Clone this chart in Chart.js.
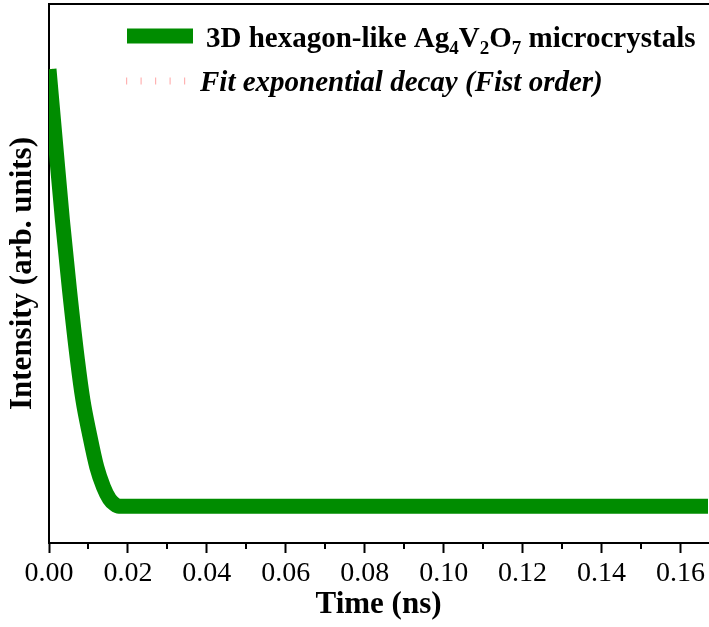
<!DOCTYPE html>
<html>
<head>
<meta charset="utf-8">
<script src="https://cdn.jsdelivr.net/npm/chart.js@4/dist/chart.umd.min.js"></script>
<style>
  html, body { margin: 0; padding: 0; background: #ffffff; }
  canvas { display: block; }
</style>
</head>
<body>
<canvas id="decay" width="709" height="627"></canvas>
<script>
// Time-resolved emission of the Ag4V2O7 microcrystals (normalised intensity)
const timeNs = [0, 0.0017, 0.0034, 0.0052, 0.0072, 0.0086, 0.0102, 0.0121, 0.0138, 0.0153, 0.0166, 0.0177, 0.0190,
                0.02, 0.03, 0.04, 0.05, 0.06, 0.07, 0.08, 0.09, 0.10, 0.11, 0.12, 0.13, 0.14, 0.15, 0.16, 0.17];
const intensity = [0.879, 0.738, 0.599, 0.469, 0.340, 0.265, 0.204, 0.141, 0.104, 0.082, 0.072, 0.068, 0.068,
                   0.068, 0.068, 0.068, 0.068, 0.068, 0.068, 0.068, 0.068, 0.068, 0.068, 0.068, 0.068, 0.068, 0.068, 0.068, 0.068];
// First-order exponential fit evaluated at the same times
const fitIntensity = [0.879, 0.738, 0.599, 0.469, 0.340, 0.265, 0.204, 0.141, 0.104, 0.082, 0.072, 0.068, 0.068,
                      0.068, 0.068, 0.068, 0.068, 0.068, 0.068, 0.068, 0.068, 0.068, 0.068, 0.068, 0.068, 0.068, 0.068, 0.068, 0.068];

const timeTicks = [0, 0.02, 0.04, 0.06, 0.08, 0.10, 0.12, 0.14, 0.16];
const tickLabels = ['0.00', '0.02', '0.04', '0.06', '0.08', '0.10', '0.12', '0.14', '0.16'];
const minorTimeTicks = [0.01, 0.03, 0.05, 0.07, 0.09, 0.11, 0.13, 0.15];

// Legend text pieces: [text, isSubscript]
const dataLabel = [['3D hexagon-like Ag', 0], ['4', 1], ['V', 0], ['2', 1], ['O', 0], ['7', 1], [' microcrystals', 0]];
const fitLabel = [['Fit exponential decay (Fist order)', 0]];

const GREEN = 'rgb(0,140,0)';
const FIT_RED = 'rgba(255,0,0,0.5)';
const SERIF = '"Liberation Serif", "Times New Roman", serif';

const toPoints = (xs, ys) => xs.map((x, i) => ({ x: x, y: ys[i] }));

// Minor ticks between the labelled ones on the time axis
const minorTicksPlugin = {
  id: 'minorTicks',
  afterDraw(chart) {
    const sx = chart.scales.x;
    const ctx = chart.ctx;
    const y0 = chart.chartArea.bottom;
    ctx.save();
    ctx.strokeStyle = '#000';
    ctx.lineWidth = 2;
    minorTimeTicks.forEach(v => {
      const px = Math.round(sx.getPixelForValue(v));
      if (px < chart.chartArea.left || px > chart.chartArea.right) return;
      ctx.beginPath();
      ctx.moveTo(px, y0);
      ctx.lineTo(px, y0 + 6);
      ctx.stroke();
    });
    ctx.restore();
  }
};

// Legend with subscripted chemical formula
function drawRichText(ctx, parts, x, y, font, subFont, subShift) {
  let cx = x;
  parts.forEach(([txt, sub]) => {
    ctx.font = sub ? subFont : font;
    ctx.fillText(txt, cx, sub ? y + subShift : y);
    cx += ctx.measureText(txt).width;
  });
  return cx;
}

const legendPlugin = {
  id: 'richLegend',
  afterDatasetsDraw(chart) {
    const ctx = chart.ctx;
    const ds = chart.data.datasets;
    ctx.save();
    ctx.textBaseline = 'alphabetic';
    ctx.textAlign = 'left';
    ctx.fillStyle = '#000';

    // data series sample
    ctx.strokeStyle = ds[0].borderColor;
    ctx.lineWidth = ds[0].borderWidth;
    ctx.lineCap = 'butt';
    ctx.beginPath();
    ctx.moveTo(127, 36);
    ctx.lineTo(193, 36);
    ctx.stroke();
    drawRichText(ctx, dataLabel, 206, 47, 'bold 29px ' + SERIF, 'bold 19px ' + SERIF, 7);

    // fit sample
    ctx.strokeStyle = 'rgba(255,0,0,0.3)';
    ctx.lineWidth = 7;
    ctx.setLineDash(ds[1].borderDash);
    ctx.beginPath();
    ctx.moveTo(126, 81);
    ctx.lineTo(193, 81);
    ctx.stroke();
    ctx.setLineDash([]);
    drawRichText(ctx, fitLabel, 200, 91, 'italic bold 29px ' + SERIF, 'italic bold 19px ' + SERIF, 7);
    ctx.restore();
  }
};

new Chart(document.getElementById('decay'), {
  type: 'line',
  data: {
    datasets: [
      {
        label: '3D hexagon-like Ag4V2O7 microcrystals',
        data: toPoints(timeNs, intensity),
        borderColor: GREEN,
        borderWidth: 15,
        borderCapStyle: 'butt',
        borderJoinStyle: 'round',
        cubicInterpolationMode: 'monotone',
        pointRadius: 0,
        fill: false
      },
      {
        label: 'Fit exponential decay (Fist order)',
        data: toPoints(timeNs, fitIntensity),
        borderColor: FIT_RED,
        borderWidth: 8,
        borderDash: [1.2, 13.3],
        borderCapStyle: 'butt',
        cubicInterpolationMode: 'monotone',
        pointRadius: 0,
        fill: false
      }
    ]
  },
  options: {
    responsive: false,
    animation: false,
    layout: { padding: 0 },
    plugins: { legend: { display: false }, tooltip: { enabled: false } },
    scales: {
      x: {
        type: 'linear',
        position: 'bottom',
        min: 0,
        max: 0.167,
        afterBuildTicks: s => { s.ticks = timeTicks.map(v => ({ value: v })); },
        afterFit: s => { s.height = 84; },
        ticks: {
          color: '#000',
          font: { family: SERIF, size: 28 },
          padding: 4,
          maxRotation: 0,
          autoSkip: false,
          callback: (v, i) => tickLabels[i]
        },
        grid: { display: true, drawOnChartArea: false, drawTicks: true, tickLength: 10, tickWidth: 2, tickColor: '#000' },
        border: { display: true, color: '#000', width: 2 },
        title: {
          display: true,
          text: 'Time (ns)',
          color: '#000',
          font: { family: SERIF, size: 31, weight: 'bold' },
          padding: { top: 0, bottom: 3 }
        }
      },
      xTop: {
        type: 'linear',
        position: 'top',
        min: 0,
        max: 1,
        afterFit: s => { s.height = 4; },
        ticks: { display: false },
        grid: { display: false },
        border: { display: true, color: '#000', width: 2 }
      },
      y: {
        type: 'linear',
        position: 'left',
        min: 0,
        max: 1,
        afterFit: s => { s.width = 49; },
        ticks: { display: false },
        grid: { display: false },
        border: { display: true, color: '#000', width: 2 },
        title: {
          display: true,
          text: 'Intensity (arb. units)',
          color: '#000',
          font: { family: SERIF, size: 31, weight: 'bold' },
          padding: { top: 4, bottom: 0 }
        }
      }
    }
  },
  plugins: [minorTicksPlugin, legendPlugin]
});
</script>
</body>
</html>
